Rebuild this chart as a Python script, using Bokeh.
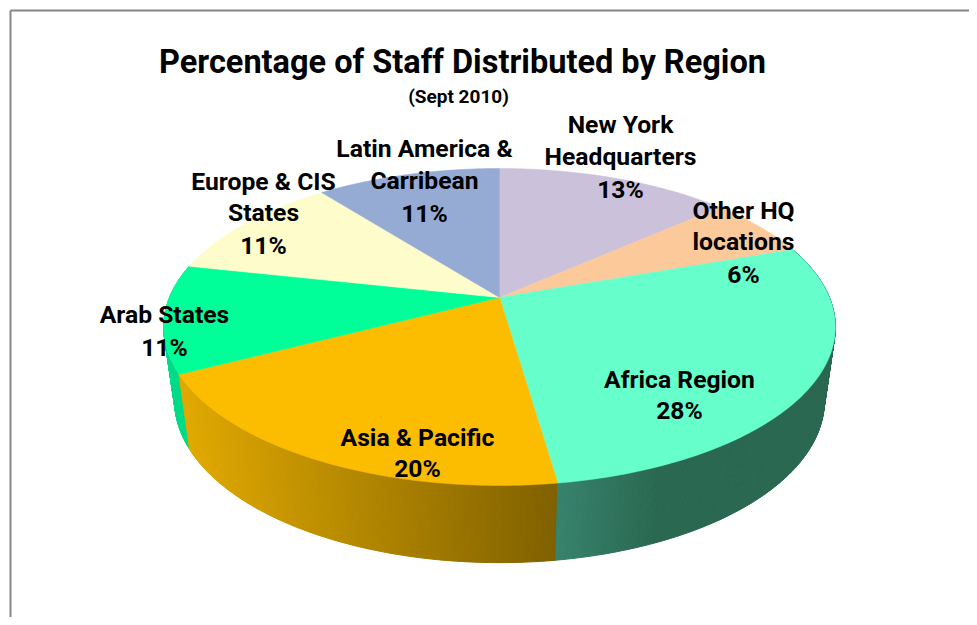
import numpy as np
from bokeh.plotting import figure
from bokeh.models import Range1d
from bokeh.core.properties import value
from bokeh.embed import file_html
from bokeh.resources import INLINE

# Data
regions = ["New York Headquarters", "Other HQ locations", "Africa Region", "Asia & Pacific",
           "Arab States", "Europe & CIS States", "Latin America & Carribean"]
shares = [13.5, 6.1, 28.1, 19.7, 11.0, 11.0, 10.6]
labels = ["13%", "6%", "28%", "20%", "11%", "11%", "11%"]

# Styles
top_colors = ["#CCC1DA", "#FCC99B", "#66FFCC", "#FCBC00", "#00FF99", "#FFFCCC", "#95ABD4"]
FONT = value("Roboto")

CX, AY = 499.0, 297.0      # apex of the perspective disc
C, A, D = 0.186, 153.0, 330.0


def rim(pct):
    t = np.radians(np.asarray(pct) * 3.6)
    u, v = np.sin(t), np.cos(t)
    den = 1 + C * v
    return CX + D * u / den, AY - A * v / den


def floor(pct):
    x, y = rim(pct)
    return CX + (x - CX) * 0.967, 400 + (y - 326) * 1.02


def mix(a, b, f):
    f = min(max(f, 0.0), 1.0)
    ca = [int(a[i:i + 2], 16) for i in (1, 3, 5)]
    cb = [int(b[i:i + 2], 16) for i in (1, 3, 5)]
    return "#%02x%02x%02x" % tuple(int(round(p + (q - p) * f)) for p, q in zip(ca, cb))


def wall_color(i, x):
    if i == 2:   # Africa
        return mix("#37826c", "#2a6851", (x - 558) / 95)
    if i == 3:   # Asia
        return mix("#e2aa00", "#7f6000", (x - 185) / 373)
    return "#00DB88"


p = figure(width=969, height=617, x_range=Range1d(0, 969), y_range=Range1d(617, 0),
           toolbar_location=None, output_backend="svg", min_border=0,
           outline_line_color=None, background_fill_color="white", border_fill_color="white")
p.axis.visible = False
p.grid.visible = False

edges = np.concatenate([[0], np.cumsum(shares)])

# Side wall: thin quads for the front-facing slices
xs, ys, cols = [], [], []
for i in (4, 3, 2):
    grid = np.linspace(edges[i], edges[i + 1], int(shares[i] * 8) + 2)
    for a, b in zip(grid[:-1], grid[1:]):
        xa, ya = rim(a); xb, yb = rim(b)
        fa_x, fa_y = floor(a); fb_x, fb_y = floor(b)
        xs.append([xa, xb, fb_x, fa_x]); ys.append([ya, yb, fb_y, fa_y])
        cols.append(wall_color(i, (fa_x + fb_x) / 2))
p.patches(xs, ys, fill_color=cols, line_color=cols, line_width=1)

# Top of the pie
for i in range(len(shares)):
    grid = np.linspace(edges[i], edges[i + 1], int(shares[i] * 4) + 2)
    x, y = rim(grid)
    p.patch(np.r_[CX, x], np.r_[AY, y], fill_color=top_colors[i], line_color=top_colors[i], line_width=0.5)

# Frame
p.line([10, 10], [625, 10], line_color="#868686", line_width=2)
p.line([10, 977], [10, 10], line_color="#868686", line_width=2)

# Texts
kw = dict(text_font=FONT, text_font_style="bold", text_align="center", text_baseline="middle", text_color="black")
p.text([462], [61], text=["Percentage of Staff Distributed by Region"], text_font_size="32.5px", **kw)
p.text([458], [96], text=["(Sept 2010)"], text_font_size="19px", **kw)

label_lines = [
    (620, [124, 156, 189], ["New York", "Headquarters", labels[0]]),
    (743, [210, 241, 274], ["Other HQ", "locations", labels[1]]),
    (679, [379, 410], ["Africa Region", labels[2]]),
    (417, [437, 468], ["Asia & Pacific", labels[3]]),
    (164, [314, 347], ["Arab States", labels[4]]),
    (263, [181, 212, 245], ["Europe & CIS", "States", labels[5]]),
    (424, [148, 180, 213], ["Latin America &", "Carribean", labels[6]]),
]
for x, yy, tt in label_lines:
    p.text([x] * len(tt), yy, text=tt, text_font_size="24.7px", **kw)

open("out.html", "w").write(file_html(p, INLINE))
